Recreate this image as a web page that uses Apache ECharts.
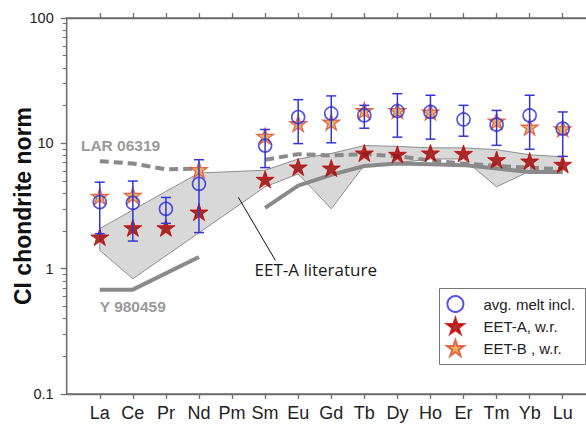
<!DOCTYPE html>
<html>
<head>
<meta charset="utf-8">
<script src="https://cdn.jsdelivr.net/npm/echarts@6/dist/echarts.min.js"></script>
<style>
html,body{margin:0;padding:0;background:#fff;}
#c{width:586px;height:424px;}
</style>
</head>
<body>
<div id="c"></div>
<script>
// ---- data ----
const elements = ['La','Ce','Pr','Nd','Pm','Sm','Eu','Gd','Tb','Dy','Ho','Er','Tm','Yb','Lu'];
const yTicks = [0.1, 1, 10, 100];
const yMinorTicks = [0.2,0.3,0.4,0.5,0.6,0.7,0.8,0.9,2,3,4,5,6,7,8,9,20,30,40,50,60,70,80,90];

const meltAvg  = [3.4, 3.35, 3.0, 4.75, null, 9.6, 16.2, 17.3, 16.7, 18.1, 17.8, 15.5, 14.1, 16.7, 13.1];
const meltHigh = [4.9, 5.0, 3.7, 7.4, null, 12.9, 22.3, 23.9, 20.1, 24.9, 24.2, 20.1, 18.3, 24.2, 17.8];
const meltLow  = [1.9, 1.66, 2.3, 1.94, null, 6.4, 9.95, 10.1, 13.2, 11.2, 10.8, 11.4, 9.64, 8.96, 7.87];
const eetA     = [1.79, 2.12, 2.12, 2.83, null, 5.16, 6.47, 6.35, 8.37, 8.17, 8.37, 8.3, 7.41, 7.22, 6.8];
const eetB     = [3.78, 3.85, null, 6.17, null, 11.4, 14.4, 14.8, 18.3, 18.3, 17.8, null, 15.1, 13.5, 13.1];
const lar06319 = [7.2, 6.9, 6.2, 6.3, null, 7.4, 8.2, 8.0, 8.2, 7.9, 7.3, 6.9, 6.6, 6.4, 6.2];
const y980459  = [0.68, 0.68, undefined, 1.24, null, 3.05, 4.6, 5.6, 6.6, 6.9, 6.8, 6.7, 6.3, 5.9, 5.9];
const litUpper = [2.09, null, null, 5.8, null, 6.1, 7.5, 8.3, 9.6, 9.45, 9.2, 9.2, 8.9, 8.1, 7.8];
const litLower = [1.40, 0.83, null, null, null, 4.5, 5.7, 3.0, 6.7, 7.0, 7.5, 7.5, 4.5, 6.0, 6.1];

// annotation anchors in data space [element index, value]
const larLabelAt  = [-0.57, 9.64];
const yLabelAt    = [0.0, 0.50];
const litLabelAt  = [4.68, 0.99];
const leaderLine  = [[4.19, 3.71], [5.31, 1.165]];

// ---- build series data ----
const idx = elements.map((e, i) => i);
const toPoints = arr => arr.map((v, i) => [i, v]).filter(p => p[1] !== null && p[1] !== undefined);
const toLine = arr => arr.map((v, i) => [i, v === null ? '-' : v]).filter(p => p[1] !== undefined);
const errData = idx.filter(i => meltAvg[i] !== null).map(i => [i, meltLow[i], meltHigh[i]]);
const litPolygon = toPoints(litUpper).concat(toPoints(litLower).reverse());

const FONT = '"Liberation Sans", Arial, Helvetica, sans-serif';
const STAR = 'path://M0,-10L2.245,-3.09L9.511,-3.09L3.633,1.18L5.878,8.09L0,3.82L-5.878,8.09L-3.633,1.18L-9.511,-3.09L-2.245,-3.09Z';
const AXIS = '#6e6e6e';

const chart = echarts.init(document.getElementById('c'), null, {renderer: 'svg'});
chart.setOption({
  animation: false,
  backgroundColor: '#ffffff',
  grid: {left: 66.7, right: -9.8, top: 18, bottom: 30, containLabel: false, outerBoundsMode: 'none',
    show: true, borderColor: AXIS, borderWidth: 1.3, backgroundColor: 'rgba(0,0,0,0)'},
  graphic: [{
    type: 'rect', left: 439, top: 288, z: 100, silent: true,
    shape: {width: 146, height: 76},
    style: {fill: 'rgba(0,0,0,0)', stroke: '#777', lineWidth: 1}
  }, {
    type: 'text', x: 22.5, y: 206, rotation: Math.PI / 2, z: 100, silent: true,
    style: {text: 'CI chondrite norm', fill: '#111', font: 'bold 23px ' + FONT,
      align: 'center', verticalAlign: 'middle'}
  }],
  legend: {
    data: ['avg. melt incl.', 'EET-A, w.r.', 'EET-B , w.r.'],
    orient: 'vertical', left: 446, top: 288,
    padding: [7, 0, 5, 0],
    itemWidth: 34, itemHeight: 16, itemGap: 4,
    textStyle: {fontSize: 15, color: '#222', fontFamily: FONT, padding: [0, 0, 0, 6]}
  },
  xAxis: [{
    type: 'value', min: -1, max: 15, interval: 1, position: 'bottom',
    axisLine: {show: true, onZero: false, lineStyle: {color: AXIS, width: 1.3}},
    axisTick: {show: true, inside: false, length: 5, customValues: idx, lineStyle: {color: AXIS, width: 1.3}},
    axisLabel: {show: true, customValues: idx, formatter: v => elements[Math.round(v)] || '',
      fontSize: 18, color: '#222', fontFamily: FONT, margin: 10},
    splitLine: {show: false}
  }, {
    type: 'value', min: -1, max: 15, interval: 1, position: 'top',
    axisLine: {show: true, onZero: false, lineStyle: {color: AXIS, width: 1.3}},
    axisTick: {show: true, inside: false, length: 5, customValues: idx, lineStyle: {color: AXIS, width: 1.3}},
    axisLabel: {show: false},
    splitLine: {show: false}
  }],
  yAxis: [{
    type: 'log', logBase: 10, min: 0.1, max: 100, position: 'left',
    axisLine: {show: true, onZero: false, lineStyle: {color: AXIS, width: 1.3}},
    axisTick: {show: true, inside: false, length: 6, customValues: yTicks, lineStyle: {color: AXIS, width: 1.3}},
    axisLabel: {show: true, customValues: yTicks, formatter: v => String(Number(Number(v).toPrecision(3))),
      fontSize: 14.5, color: '#222', fontFamily: FONT, margin: 13},
    splitLine: {show: false}
  }, {
    type: 'log', logBase: 10, min: 0.1, max: 100, position: 'left',
    axisLine: {show: false, onZero: false},
    axisTick: {show: true, inside: false, length: 4, customValues: yMinorTicks, lineStyle: {color: AXIS, width: 1}},
    axisLabel: {show: false},
    splitLine: {show: false}
  }],
  series: [
    {
      type: 'custom', name: 'EET-A literature field', z: 1, silent: true,
      data: [[0, 1]],
      renderItem: (params, api) => ({
        type: 'polygon',
        shape: {points: litPolygon.map(p => api.coord(p))},
        style: {fill: '#d8d8d8', stroke: '#8e8e8e', lineWidth: 1}
      })
    },
    {
      type: 'line', name: 'LAR 06319', z: 2, silent: true, symbol: 'none',
      data: toLine(lar06319),
      lineStyle: {color: '#8a8a8a', width: 4, type: [9, 5]}
    },
    {
      type: 'line', name: 'Y 980459', z: 2, silent: true, symbol: 'none',
      data: toLine(y980459),
      lineStyle: {color: '#8a8a8a', width: 4}
    },
    {
      type: 'scatter', name: 'EET-A, w.r.', z: 3,
      symbol: STAR, symbolSize: 18, symbolKeepAspect: true,
      data: toPoints(eetA),
      itemStyle: {color: '#980000', borderColor: '#c80000', borderWidth: 1}
    },
    {
      type: 'scatter', name: 'EET-B , w.r.', z: 4,
      symbol: STAR, symbolSize: 17, symbolKeepAspect: true,
      data: toPoints(eetB),
      itemStyle: {color: '#e0a03c', borderColor: '#e2482a', borderWidth: 1.2}
    },
    {
      type: 'custom', name: 'melt error', z: 5, silent: true,
      data: errData,
      renderItem: (params, api) => {
        const x = api.value(0);
        const lo = api.coord([x, api.value(1)]);
        const hi = api.coord([x, api.value(2)]);
        const w = 5;
        const st = {stroke: '#3535d6', lineWidth: 1.5};
        return {type: 'group', children: [
          {type: 'line', shape: {x1: lo[0], y1: lo[1], x2: hi[0], y2: hi[1]}, style: st},
          {type: 'line', shape: {x1: lo[0] - w, y1: lo[1], x2: lo[0] + w, y2: lo[1]}, style: st},
          {type: 'line', shape: {x1: hi[0] - w, y1: hi[1], x2: hi[0] + w, y2: hi[1]}, style: st}
        ]};
      }
    },
    {
      type: 'scatter', name: 'avg. melt incl.', z: 6,
      symbol: 'circle', symbolSize: 13,
      data: toPoints(meltAvg),
      itemStyle: {color: 'rgba(0,0,0,0)', borderColor: '#2b2bd6', borderWidth: 1.6}
    },
    {
      type: 'custom', name: 'annotations', z: 7, silent: true,
      data: [[0, 1]],
      renderItem: (params, api) => {
        const a = api.coord(larLabelAt), b = api.coord(yLabelAt), c = api.coord(litLabelAt);
        const l1 = api.coord(leaderLine[0]), l2 = api.coord(leaderLine[1]);
        return {type: 'group', children: [
          {type: 'text', x: a[0], y: a[1], style: {text: 'LAR 06319', fill: '#9a9a9a',
            font: 'bold 15.5px ' + FONT, align: 'left', verticalAlign: 'middle'}},
          {type: 'text', x: b[0], y: b[1], style: {text: 'Y 980459', fill: '#9a9a9a',
            font: 'bold 15.5px ' + FONT, align: 'left', verticalAlign: 'middle'}},
          {type: 'text', x: c[0], y: c[1], style: {text: 'EET-A literature', fill: '#1a1a1a',
            font: '17px "Open Sans", sans-serif', align: 'left', verticalAlign: 'middle'}},
          {type: 'line', shape: {x1: l1[0], y1: l1[1], x2: l2[0], y2: l2[1]}, style: {stroke: '#111', lineWidth: 1}}
        ]};
      }
    }
  ]
});
</script>
</body>
</html>
